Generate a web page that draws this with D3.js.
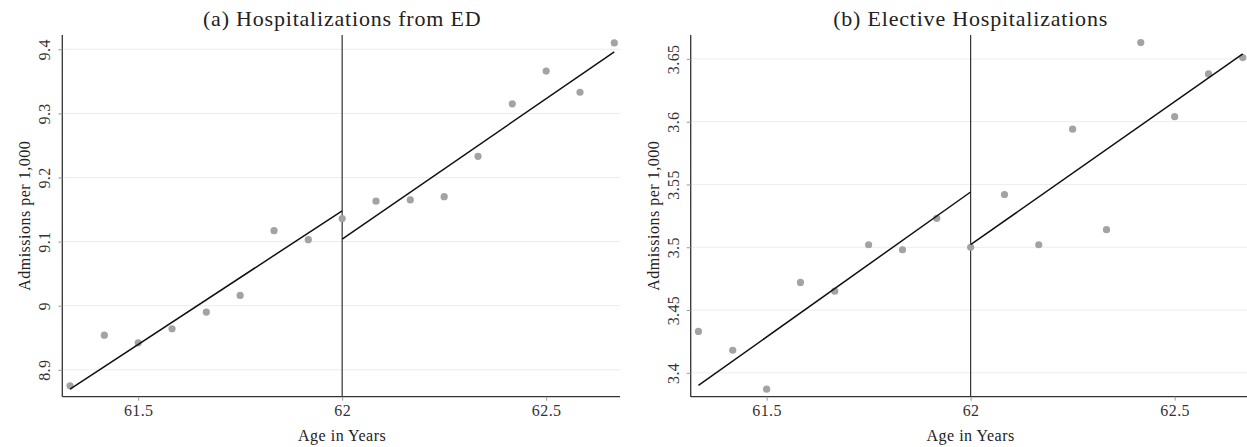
<!DOCTYPE html>
<html>
<head>
<meta charset="utf-8">
<script src="https://cdn.jsdelivr.net/npm/d3@7"></script>
<style>
  body { margin: 0; background: #fff; }
  svg text { font-family: "Liberation Serif", "Times New Roman", serif; fill: #222; }
</style>
</head>
<body>
<svg id="chart" width="1247" height="447"></svg>
<script>
// Monthly age bins (years)
const ages = [61.333, 61.417, 61.5, 61.583, 61.667, 61.75, 61.833, 61.917,
  62, 62.083, 62.167, 62.25, 62.333, 62.417, 62.5, 62.583, 62.667];

// (a) Hospitalizations from ED, admissions per 1,000
const edValues = [8.875, 8.954, 8.942, 8.964, 8.990, 9.016, 9.117, 9.103,
  9.136, 9.163, 9.165, 9.170, 9.233, 9.315, 9.366, 9.333, 9.410];
// fitted segments [x0, y0, x1, y1]
const edFitBefore = [61.333, 8.870, 62, 9.148];
const edFitAfter = [62, 9.104, 62.667, 9.396];
const edTicks = [8.9, 9, 9.1, 9.2, 9.3, 9.4];

// (b) Elective hospitalizations
const electiveValues = [3.433, 3.418, 3.387, 3.472, 3.465, 3.502, 3.498, 3.523,
  3.500, 3.542, 3.502, 3.594, 3.514, 3.663, 3.604, 3.638, 3.651];
const electiveFitBefore = [61.333, 3.390, 62, 3.544];
const electiveFitAfter = [62, 3.502, 62.667, 3.654];
const electiveTicks = [3.4, 3.45, 3.5, 3.55, 3.6, 3.65];

const xTicks = [61.5, 62, 62.5];
const cutoff = 62;

const svg = d3.select('#chart');

/**
 * Draws one RD scatter panel.
 */
function drawPanel(opts) {
  const { left, right, top, bottom, xDomain, yDomain, values, fitBefore, fitAfter, yTicks, title } = opts;

  const x = d3.scaleLinear().domain(xDomain).range([left, right]);
  const y = d3.scaleLinear().domain(yDomain).range([bottom, top]);

  const g = svg.append('g');

  // gridlines
  g.selectAll('line.grid')
    .data(yTicks)
    .join('line')
    .attr('class', 'grid')
    .attr('x1', left)
    .attr('x2', right)
    .attr('y1', (d) => y(d))
    .attr('y2', (d) => y(d))
    .attr('stroke', '#ececec')
    .attr('stroke-width', 1);

  // y axis
  const yAxis = g.append('g')
    .attr('transform', `translate(${left},0)`)
    .call(d3.axisLeft(y).tickValues(yTicks).tickSize(4).tickFormat(d3.format('')));
  yAxis.select('.domain').attr('d', `M0,${top}V${bottom}`).attr('stroke', '#333').attr('stroke-width', 1.3);
  yAxis.selectAll('.tick line').attr('stroke', '#999');
  yAxis.selectAll('.tick text')
    .attr('transform', 'rotate(-90)')
    .attr('x', 0)
    .attr('y', -12)
    .attr('dy', 0)
    .style('text-anchor', 'middle')
    .style('font-size', '16px')
    .style('letter-spacing', '0.4px')
    .style('fill', '#333');

  // x axis
  const xAxis = g.append('g')
    .attr('transform', `translate(0,${bottom})`)
    .call(d3.axisBottom(x).tickValues(xTicks).tickSize(4).tickFormat(d3.format('')));
  xAxis.select('.domain').attr('d', `M${left},0H${right}`).attr('stroke', '#333').attr('stroke-width', 1.3);
  xAxis.selectAll('.tick line').attr('stroke', '#999');
  xAxis.selectAll('.tick text')
    .attr('y', 8)
    .style('font-size', '16px')
    .style('letter-spacing', '0.4px')
    .style('fill', '#333');

  // cutoff line
  g.append('line')
    .attr('x1', x(cutoff))
    .attr('x2', x(cutoff))
    .attr('y1', top)
    .attr('y2', bottom)
    .attr('stroke', '#333')
    .attr('stroke-width', 1.2);

  // points
  g.selectAll('circle')
    .data(ages.map((a, i) => [a, values[i]]))
    .join('circle')
    .attr('cx', (d) => x(d[0]))
    .attr('cy', (d) => y(d[1]))
    .attr('r', 3.6)
    .attr('fill', '#a3a3a3');

  // fitted lines
  [fitBefore, fitAfter].forEach((s) => {
    g.append('line')
      .attr('x1', x(s[0]))
      .attr('y1', y(s[1]))
      .attr('x2', x(s[2]))
      .attr('y2', y(s[3]))
      .attr('stroke', '#111')
      .attr('stroke-width', 1.5);
  });

  // titles
  const cx = x(cutoff);
  g.append('text')
    .attr('x', cx)
    .attr('y', 26)
    .attr('text-anchor', 'middle')
    .style('font-size', '22px')
    .style('letter-spacing', '0.8px')
    .text(title);

  g.append('text')
    .attr('x', cx)
    .attr('y', 441)
    .attr('text-anchor', 'middle')
    .style('font-size', '16px')
    .style('letter-spacing', '0.5px')
    .text('Age in Years');

  g.append('text')
    .attr('transform', `translate(${left - 32},${(top + bottom) / 2}) rotate(-90)`)
    .attr('text-anchor', 'middle')
    .style('font-size', '16px')
    .style('letter-spacing', '0.5px')
    .text('Admissions per 1,000');
}

drawPanel({
  left: 62.3, right: 620, top: 35, bottom: 396.7,
  xDomain: [61.314, 62.681], yDomain: [8.858, 9.4223],
  values: edValues, fitBefore: edFitBefore, fitAfter: edFitAfter,
  yTicks: edTicks,
  title: '(a) Hospitalizations from ED'
});

drawPanel({
  left: 690.7, right: 1248.5, top: 35, bottom: 396.7,
  xDomain: [61.314, 62.681], yDomain: [3.381, 3.669],
  values: electiveValues, fitBefore: electiveFitBefore, fitAfter: electiveFitAfter,
  yTicks: electiveTicks,
  title: '(b) Elective Hospitalizations'
});
</script>
</body>
</html>
